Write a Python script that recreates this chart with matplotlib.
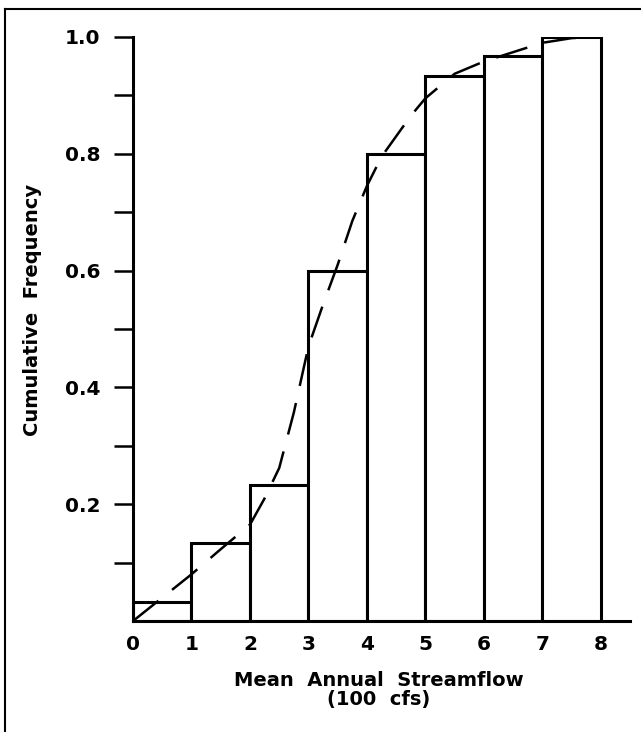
import matplotlib.pyplot as plt
from matplotlib.lines import Line2D

# Dados: frequência acumulada por classe de vazão (100 cfs)
classes_esq = [0, 1, 2, 3, 4, 5, 6, 7]
freq_acumulada = [0.033, 0.133, 0.233, 0.600, 0.800, 0.933, 0.967, 1.000]

# Curva ajustada (tracejada)
curva_x = [0, 0.5, 1.0, 1.5, 2.0, 2.25, 2.5, 2.75, 3.0, 3.25, 3.5, 3.75, 4.0, 4.25,
           4.5, 4.75, 5.0, 5.5, 6.0, 6.5, 7.0, 7.5, 7.85]
curva_y = [0, 0.04, 0.08, 0.123, 0.165, 0.21, 0.262, 0.357, 0.47, 0.542, 0.61, 0.685, 0.745, 0.795,
           0.83, 0.865, 0.895, 0.937, 0.958, 0.974, 0.99, 0.998, 1.0]

yticks = [0.1, 0.2, 0.3, 0.4, 0.5, 0.6, 0.7, 0.8, 0.9, 1.0]
ytick_labels = ["", "0.2", "", "0.4", "", "0.6", "", "0.8", "", "1.0"]
xticks = [0, 1, 2, 3, 4, 5, 6, 7, 8]

fig = plt.figure(figsize=(6.41, 7.32), dpi=100)
ax = fig.add_axes([0.2075, 0.1516, 0.7755, 0.7979])

# Barras (histograma acumulado)
ax.bar(classes_esq, freq_acumulada, width=1.0, align="edge",
       facecolor="white", edgecolor="black", linewidth=2.2)

# Curva tracejada
ax.plot(curva_x, curva_y, color="black", linewidth=1.8, dashes=(13, 7))

ax.set_xlim(0, 8.5)
ax.set_ylim(0, 1.0)
ax.set_xticks(xticks)
ax.set_xticklabels([str(v) for v in xticks], fontweight="bold")
ax.set_yticks(yticks)
ax.set_yticklabels(ytick_labels, fontweight="bold")

for lado in ["top", "right"]:
    ax.spines[lado].set_visible(False)
for lado in ["left", "bottom"]:
    ax.spines[lado].set_linewidth(2.2)

ax.tick_params(axis="y", direction="out", length=13.5, width=1.8, labelsize=14.5, pad=10)
ax.tick_params(axis="x", length=0, labelsize=14.5, pad=10)

ax.set_xlabel("Mean  Annual  Streamflow\n(100  cfs)", fontsize=14, fontweight="bold", linespacing=1.0)
ax.set_ylabel("Cumulative  Frequency", fontsize=14, fontweight="bold")
ax.xaxis.set_label_coords(0.495, -0.085)
ax.yaxis.set_label_coords(-0.183, 0.533)

# Moldura parcial da figura (esquerda e topo)
fig.add_artist(Line2D([5 / 641, 5 / 641], [0, 1 - 9 / 732], color="black", linewidth=1.5))
fig.add_artist(Line2D([5 / 641, 1], [1 - 9 / 732, 1 - 9 / 732], color="black", linewidth=1.5))

plt.savefig("out.png", dpi=100)
plt.close()
